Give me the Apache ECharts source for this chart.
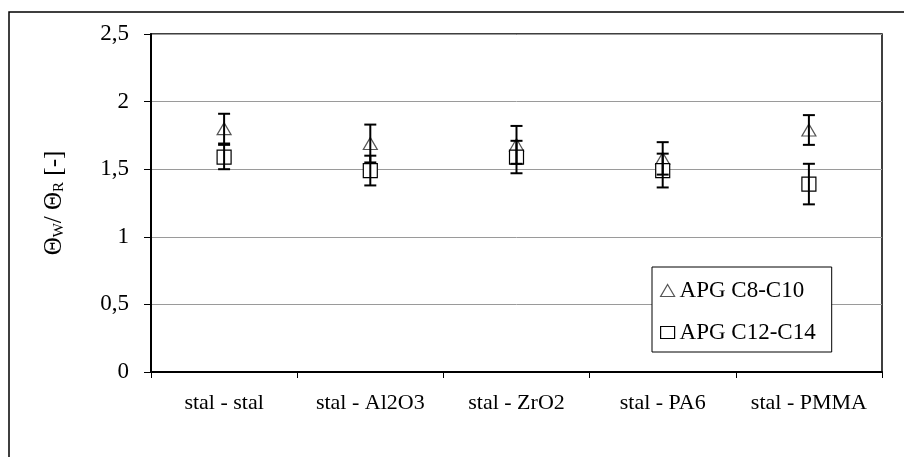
<!DOCTYPE html>
<html>
<head>
<meta charset="utf-8">
<script src="https://cdn.jsdelivr.net/npm/echarts@6/dist/echarts.min.js"></script>
<style>
  html, body { margin: 0; padding: 0; background: #fff; }
  #chart { width: 904px; height: 457px; }
</style>
</head>
<body>
<div id="chart"></div>
<script>
// DATA
const categories = ["stal - stal", "stal - Al2O3", "stal - ZrO2", "stal - PA6", "stal - PMMA"];
const yTicks = [0, 0.5, 1, 1.5, 2, 2.5];

const c8Name = "APG C8-C10";
const c8Values = [1.80, 1.69, 1.68, 1.58, 1.79];
const c8Errors = [0.11, 0.14, 0.14, 0.12, 0.11];

const c12Name = "APG C12-C14";
const c12Values = [1.59, 1.49, 1.59, 1.49, 1.39];
const c12Errors = [0.09, 0.11, 0.12, 0.125, 0.15];

const FONT = "Liberation Serif";

let chart = echarts.init(document.getElementById("chart"));

function errorData(values, errors) {
  return values.map((v, i) => [i, v - errors[i], v + errors[i]]);
}

function renderErrorBar(params, api) {
  const x = api.value(0);
  const low = api.coord([x, api.value(1)]);
  const high = api.coord([x, api.value(2)]);
  const half = 6;
  const style = { stroke: "#000", lineWidth: 2 };
  return {
    type: "group",
    children: [
      { type: "line", shape: { x1: low[0], y1: low[1], x2: high[0], y2: high[1] }, style },
      { type: "line", shape: { x1: high[0] - half, y1: high[1], x2: high[0] + half, y2: high[1] }, style },
      { type: "line", shape: { x1: low[0] - half, y1: low[1], x2: low[0] + half, y2: low[1] }, style },
    ],
  };
}

let option = {
  backgroundColor: "#fff",
  animation: false,
  textStyle: { fontFamily: FONT, color: "#000" },
  graphic: [
    {
      type: "rect",
      shape: { x: 9, y: 12, width: 1000, height: 600 },
      style: { fill: "none", stroke: "#000", lineWidth: 1.5 },
      z: -1,
    },
  ],
  grid: {
    left: 151,
    right: 22,
    top: 34,
    bottom: 85,
    show: true,
    borderColor: "#000",
    borderWidth: 1.5,
  },
  legend: {
    orient: "vertical",
    left: 652,
    top: 267,
    padding: [12, 16, 8, 8],
    itemGap: 19,
    itemWidth: 14,
    itemHeight: 12,
    itemTextGap: 6,
    borderColor: "#000",
    borderWidth: 1,
    backgroundColor: "#fff",
    textStyle: { fontFamily: FONT, fontSize: 23, color: "#000" },
    data: [
      { name: c8Name, icon: "triangle", itemStyle: { color: "#fff", borderColor: "#555", borderWidth: 1.2 } },
      { name: c12Name, icon: "rect", itemStyle: { color: "#fff", borderColor: "#000", borderWidth: 1.2 } },
    ],
  },
  xAxis: {
    type: "category",
    data: categories,
    axisLine: { lineStyle: { color: "#000", width: 2 } },
    axisTick: { show: true, interval: 0, length: 6, lineStyle: { color: "#000", width: 1 } },
    axisLabel: { interval: 0, fontFamily: FONT, fontSize: 22, color: "#000", margin: 20 },
    splitLine: { show: false },
  },
  yAxis: {
    type: "value",
    min: yTicks[0],
    max: yTicks[yTicks.length - 1],
    interval: yTicks[1] - yTicks[0],
    name: "{t|Θ}{s|W}{t|/ Θ}{s|R}{t| [-]}",
    nameLocation: "middle",
    nameRotate: 90,
    nameGap: 84,
    nameTextStyle: {
      rich: {
        t: { fontFamily: FONT, fontSize: 25, color: "#000" },
        s: { fontFamily: FONT, fontSize: 15, color: "#000", verticalAlign: "bottom", padding: [10, 0, 0, 0] },
      },
    },
    axisLine: { show: true, lineStyle: { color: "#000", width: 2 } },
    axisTick: { show: true, length: 7, lineStyle: { color: "#000", width: 1 } },
    axisLabel: {
      fontFamily: FONT,
      fontSize: 23,
      color: "#000",
      margin: 22,
      formatter: (v) => String(v).replace(".", ","),
    },
    splitLine: { show: true, lineStyle: { color: "#9a9a9a", width: 1 } },
  },
  series: [
    {
      name: c8Name,
      type: "scatter",
      symbol: "triangle",
      symbolSize: [14, 12],
      itemStyle: { color: "#fff", borderColor: "#555", borderWidth: 1.2, opacity: 1 },
      data: c8Values,
      z: 2,
    },
    {
      name: c12Name,
      type: "scatter",
      symbol: "rect",
      symbolSize: [14, 14],
      itemStyle: { color: "#fff", borderColor: "#000", borderWidth: 1.2, opacity: 1 },
      data: c12Values,
      z: 2,
    },
    {
      name: c8Name + " err",
      type: "custom",
      renderItem: renderErrorBar,
      data: errorData(c8Values, c8Errors),
      z: 3,
    },
    {
      name: c12Name + " err",
      type: "custom",
      renderItem: renderErrorBar,
      data: errorData(c12Values, c12Errors),
      z: 3,
    },
  ],
};

chart.setOption(option);
</script>
</body>
</html>
